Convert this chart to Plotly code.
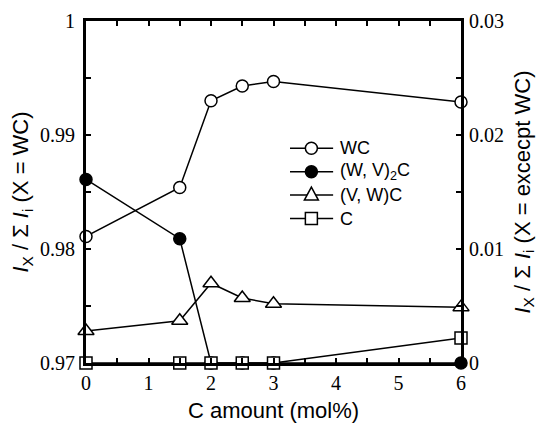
import plotly.graph_objects as go

x_c = [0, 1.5, 2, 2.5, 3, 6]
wc = [0.9811, 0.9854, 0.9930, 0.9943, 0.9947, 0.9929]
wv2c = [0.0161, 0.0109, 0.0, 0.0, 0.0, 0.0]
vwc = [0.0028, 0.0037, 0.0070, 0.0057, 0.0052, 0.0049]
c_free = [0.0, 0.0, 0.0, 0.0, 0.0, 0.0022]

series_names = ["WC", "(W, V)<sub>2</sub>C", "(V, W)C", "C"]
series_symbols = ["circle", "circle", "triangle-up", "square"]
series_fills = ["white", "black", "white", "white"]

left_ticks = [0.97, 0.98, 0.99, 1.0]
left_labels = ["0.97", "0.98", "0.99", "1"]
right_ticks = [0, 0.01, 0.02, 0.03]
right_labels = ["0", "0.01", "0.02", "0.03"]
x_ticks = [0, 1, 2, 3, 4, 5, 6]

serif = "Liberation Serif, Times New Roman, DejaVu Serif, serif"
sans = "Liberation Sans, Arial, sans-serif"
MS = 12

fig = go.Figure()
ys = [wc, wv2c, vwc, c_free]
axes = ["y", "y2", "y2", "y2"]
for name, sym, fill, yv, ax in zip(series_names, series_symbols, series_fills, ys, axes):
    fig.add_trace(go.Scatter(
        x=x_c, y=yv, name=name, mode="lines+markers",
        line=dict(color="black", width=1.5),
        marker=dict(symbol=sym, size=MS + (2 if sym == "triangle-up" else 0), color=fill,
                    line=dict(color="black", width=1.5)),
        yaxis=ax, cliponaxis=False, showlegend=False))

# manual legend (tight spacing like the reference)
leg_x0, leg_x1, leg_xm, leg_tx = 0.544, 0.659, 0.601, 0.672
leg_top, leg_step = 0.628, 0.0685
r = MS / 2
for i, (name, sym, fill) in enumerate(zip(series_names, series_symbols, series_fills)):
    yy = leg_top - i * leg_step
    fig.add_shape(type="line", xref="paper", yref="paper", x0=leg_x0, x1=leg_x1, y0=yy, y1=yy,
                  line=dict(color="black", width=1.5))
    common = dict(xref="paper", yref="paper", xsizemode="pixel", ysizemode="pixel",
                  xanchor=leg_xm, yanchor=yy, fillcolor=fill, line=dict(color="black", width=1.5))
    if sym == "circle":
        fig.add_shape(type="circle", x0=-r, x1=r, y0=-r, y1=r, **common)
    elif sym == "square":
        fig.add_shape(type="rect", x0=-r, x1=r, y0=-r, y1=r, **common)
    else:
        fig.add_shape(type="path", path=f"M {-r-1} {-r+1} L {r+1} {-r+1} L 0 {r+2} Z", **common)
    fig.add_annotation(text=name, xref="paper", yref="paper", x=leg_tx, y=yy, xanchor="left",
                       yanchor="middle", showarrow=False, font=dict(family=sans, size=18, color="black"))

tick_common = dict(ticks="inside", ticklen=5, tickwidth=1.5, tickcolor="black", showline=True,
                   linewidth=2.8, linecolor="black", showgrid=False, zeroline=False,
                   tickfont=dict(family=serif, size=20, color="black"), automargin=False)

fig.update_layout(
    width=538, height=423,
    margin=dict(l=86, r=77, t=21, b=60),
    paper_bgcolor="white", plot_bgcolor="white",
    showlegend=False,
    xaxis=dict(range=[0, 6], tickvals=x_ticks, mirror="ticks",
               minor=dict(tickvals=[0.5, 1.5, 2.5, 3.5, 4.5, 5.5], ticks="inside", ticklen=5, tickwidth=1.5, tickcolor="black"),
               title=dict(text="C amount (mol%)", font=dict(family=sans, size=22, color="black"), standoff=12),
               **tick_common),
    yaxis=dict(range=[0.97, 1.0], tickvals=left_ticks, ticktext=left_labels, ticklabelstandoff=4,
               minor=dict(tickvals=[0.975, 0.985, 0.995], ticks="inside", ticklen=5, tickwidth=1.5, tickcolor="black"),
               title=dict(text="<i>I</i><sub>X</sub> / Σ <i>I</i><sub>i</sub> (X = WC)",
                          font=dict(family=sans, size=22, color="black"), standoff=6),
               **tick_common),
    yaxis2=dict(range=[0, 0.03], overlaying="y", side="right", tickvals=right_ticks, ticktext=right_labels,
                ticklabelstandoff=1,
                minor=dict(tickvals=[0.005, 0.015, 0.025], ticks="inside", ticklen=5, tickwidth=1.5, tickcolor="black"),
                title=dict(text="<i>I</i><sub>X</sub> / Σ <i>I</i><sub>i</sub> (X = excecpt WC)",
                           font=dict(family=sans, size=22, color="black"), standoff=12),
                **tick_common),
)

fig.write_html("out.html", config={"displayModeBar": False},
               post_script="document.body.style.margin='0';document.body.style.overflow='hidden';")
